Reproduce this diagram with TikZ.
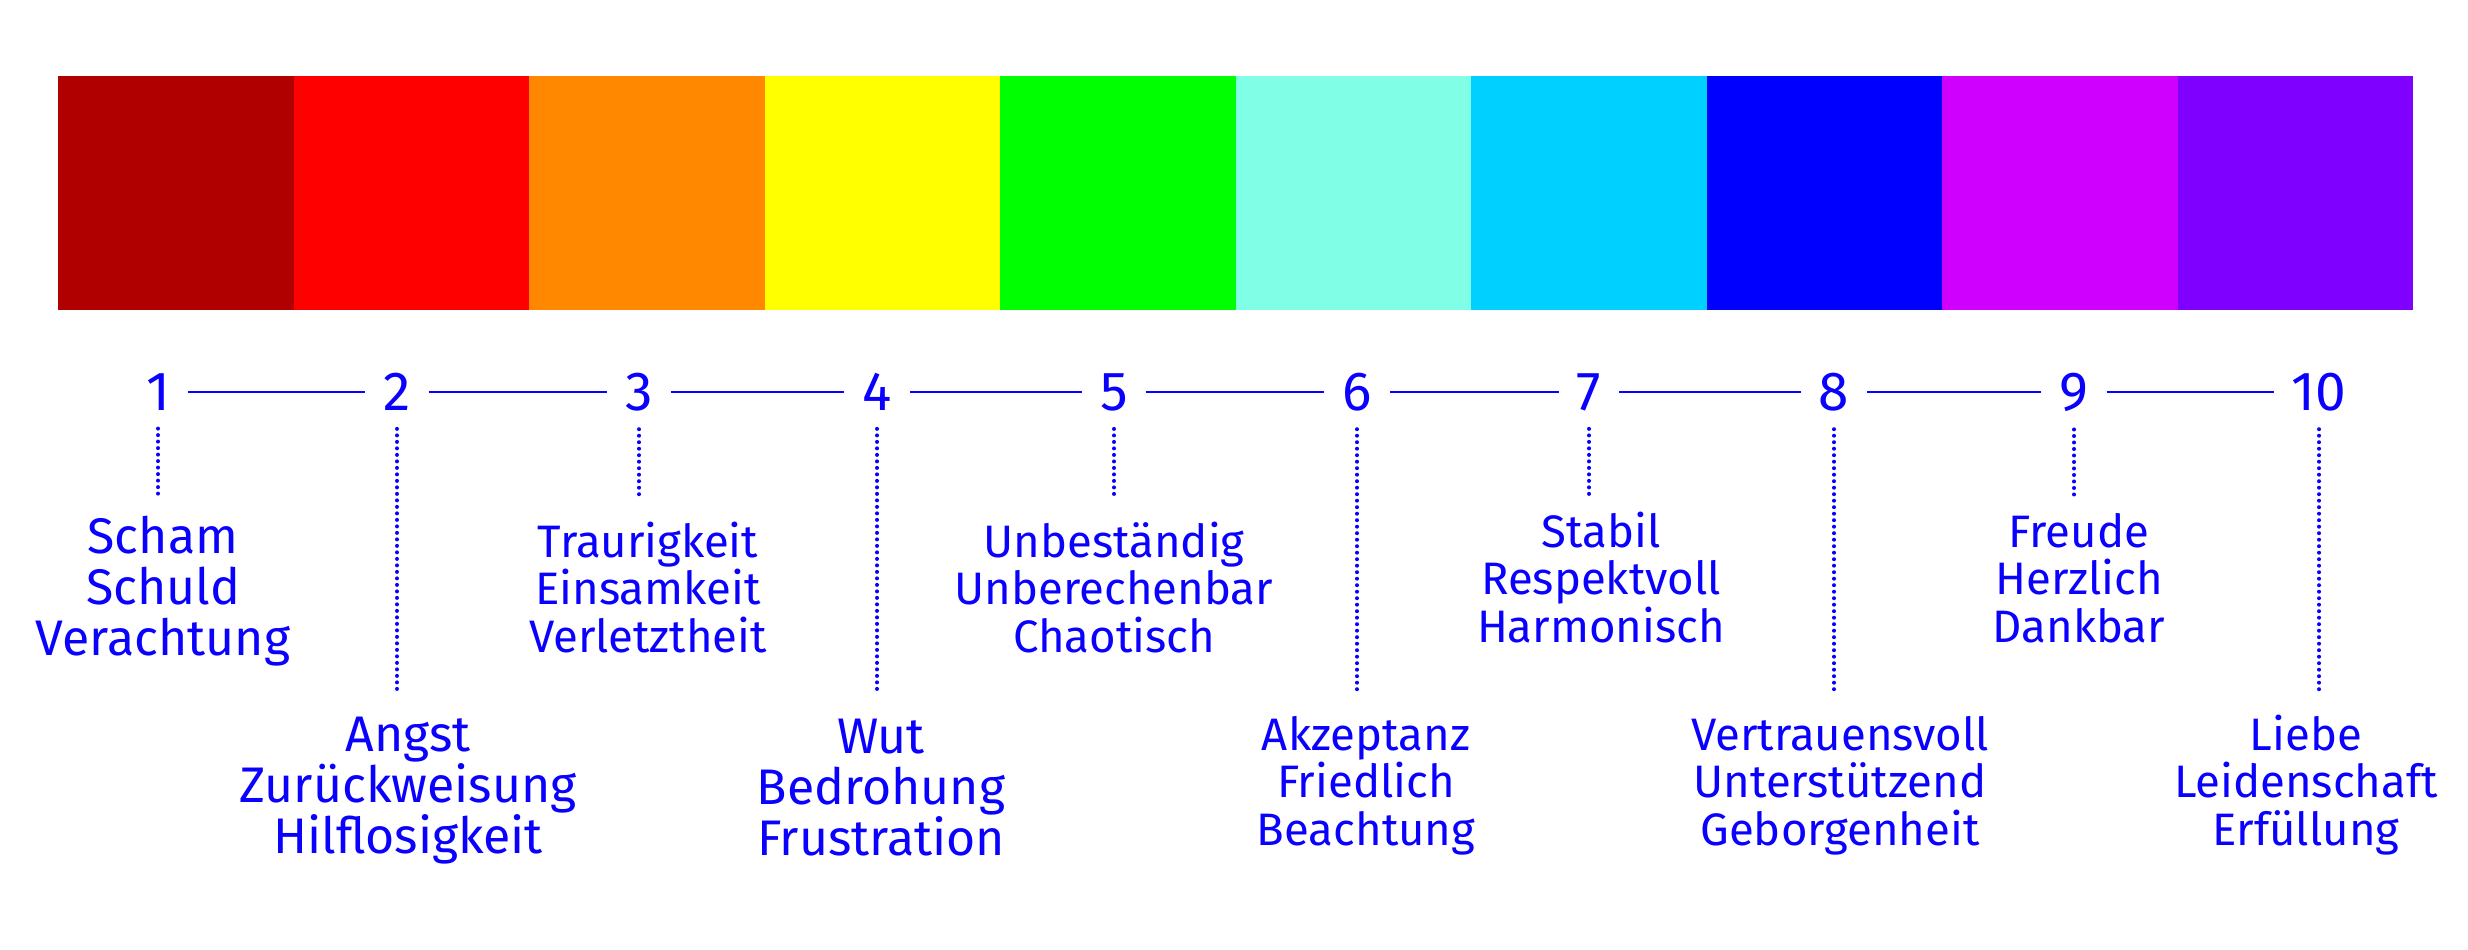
\documentclass[tikz,border=0pt]{standalone}
\usepackage{fontspec}
\setmainfont{Fira Sans}
\usepackage{tikz}

\definecolor{lvl1}{HTML}{B00000}
\definecolor{lvl2}{HTML}{FF0000}
\definecolor{lvl3}{HTML}{FF8800}
\definecolor{lvl4}{HTML}{FFFF00}
\definecolor{lvl5}{HTML}{00FF00}
\definecolor{lvl6}{HTML}{80FFE6}
\definecolor{lvl7}{HTML}{00D0FF}
\definecolor{lvl8}{HTML}{0000FF}
\definecolor{lvl9}{HTML}{D000FF}
\definecolor{lvl10}{HTML}{7F00FF}
\definecolor{ink}{HTML}{0A00FF}

\tikzset{
  num/.style={text=ink, font=\fontsize{55}{55}\selectfont, inner sep=18pt},
  rung/.style={draw=ink, line width=2.5pt},
  dotline/.style={draw=ink, line width=4pt, line cap=round, dash pattern=on 0pt off 6.5pt},
  bigword/.style={text=ink, font=\fontsize{50}{51}\selectfont, align=center, anchor=base, inner sep=0pt},
  smallword/.style={text=ink, font=\fontsize{45.5}{47.5}\selectfont, align=center, anchor=base, inner sep=0pt}
}

\begin{document}
\begin{tikzpicture}[x=1pt,y=-1pt]
\useasboundingbox (0,0) rectangle (2468,950);
% colour bar
\fill[lvl1] (58,76) rectangle (293.5,310); \fill[lvl2] (293.5,76) rectangle (529,310);
\fill[lvl3] (529,76) rectangle (764.5,310); \fill[lvl4] (764.5,76) rectangle (1000,310);
\fill[lvl5] (1000,76) rectangle (1235.5,310); \fill[lvl6] (1235.5,76) rectangle (1471,310);
\fill[lvl7] (1471,76) rectangle (1706.5,310); \fill[lvl8] (1706.5,76) rectangle (1942,310);
\fill[lvl9] (1942,76) rectangle (2177.5,310); \fill[lvl10] (2177.5,76) rectangle (2413,310);

% scale
\node [num] (n1) at (158,392) {1}; \node [num] (n2) at (397,392) {2};
\node [num] (n3) at (639,392) {3}; \node [num] (n4) at (877,392) {4};
\node [num] (n5) at (1114,392) {5}; \node [num] (n6) at (1357,392) {6};
\node [num] (n7) at (1589,392) {7}; \node [num] (n8) at (1834,392) {8};
\node [num] (n9) at (2074,392) {9}; \node [num] (n10) at (2319,392) {10};
\draw [rung] (n1) -- (n2); \draw [rung] (n2) -- (n3); \draw [rung] (n3) -- (n4);
\draw [rung] (n4) -- (n5); \draw [rung] (n5) -- (n6); \draw [rung] (n6) -- (n7);
\draw [rung] (n7) -- (n8); \draw [rung] (n8) -- (n9); \draw [rung] (n9) -- (n10);

% dotted stems
\coordinate (d1) at (158,500); \coordinate (d2) at (397,692);
\coordinate (d3) at (639,500); \coordinate (d4) at (877,692);
\coordinate (d5) at (1114,500); \coordinate (d6) at (1357,692);
\coordinate (d7) at (1589,500); \coordinate (d8) at (1834,692);
\coordinate (d9) at (2074,500); \coordinate (d10) at (2319,692);
\draw [dotline] (n1) -- (d1); \draw [dotline] (n2) -- (d2);
\draw [dotline] (n3) -- (d3); \draw [dotline] (n4) -- (d4);
\draw [dotline] (n5) -- (d5); \draw [dotline] (n6) -- (d6);
\draw [dotline] (n7) -- (d7); \draw [dotline] (n8) -- (d8);
\draw [dotline] (n9) -- (d9); \draw [dotline] (n10) -- (d10);

% feelings (placed by the baseline of the last line)
\node [bigword] (t1) at (163,655) {Scham\\Schuld\\Verachtung};
\node [bigword] (t2) at (408,853) {Angst\\Zurückweisung\\Hilflosigkeit};
\node [smallword] (t3) at (648,652) {Traurigkeit\\Einsamkeit\\Verletztheit};
\node [bigword] (t4) at (881,855) {Wut\\Bedrohung\\Frustration};
\node [smallword] (t5) at (1114,652) {Unbeständig\\Unberechenbar\\Chaotisch};
\node [smallword] (t6) at (1366,845) {Akzeptanz\\Friedlich\\Beachtung};
\node [smallword] (t7) at (1601,642) {Stabil\\Respektvoll\\Harmonisch};
\node [smallword] (t8) at (1840,845) {Vertrauensvoll\\Unterstützend\\Geborgenheit};
\node [smallword] (t9) at (2079,642) {Freude\\Herzlich\\Dankbar};
\node [smallword] (t10) at (2306,845) {Liebe\\Leidenschaft\\Erfüllung};
\end{tikzpicture}
\end{document}
